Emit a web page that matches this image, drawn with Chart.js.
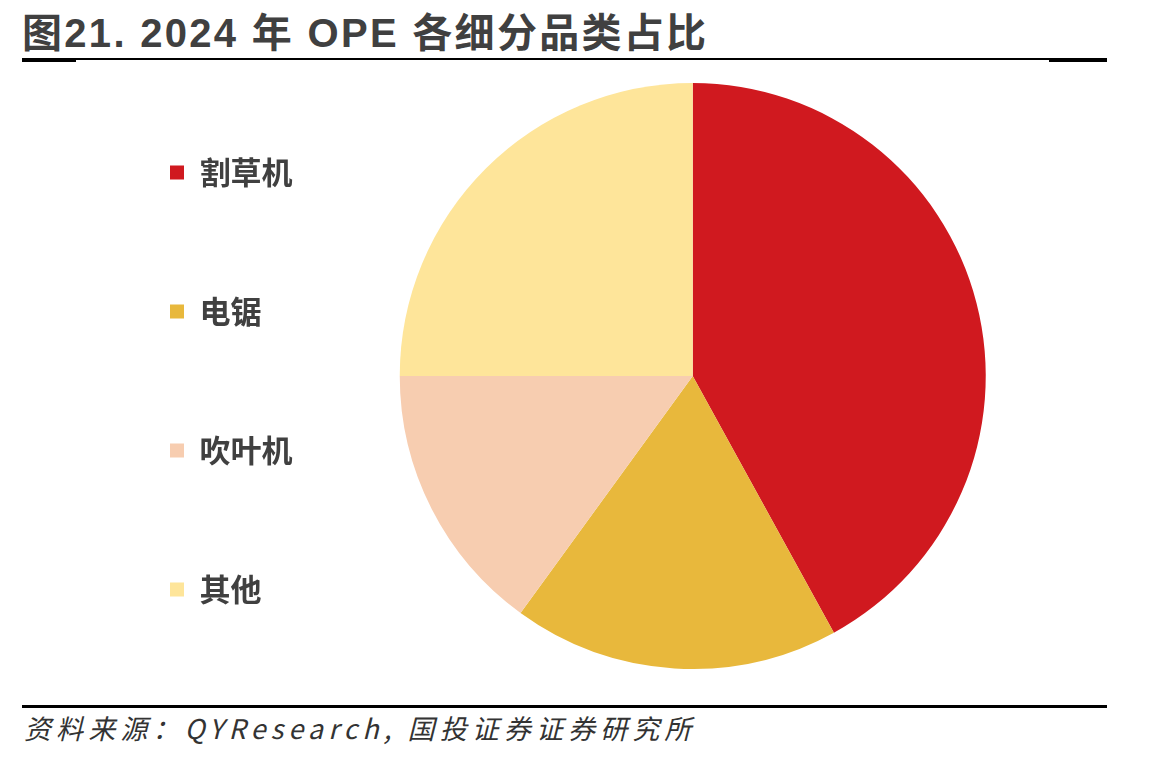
<!DOCTYPE html>
<html>
<head>
<meta charset="utf-8">
<script src="https://cdn.jsdelivr.net/npm/chart.js@4/dist/chart.umd.min.js"></script>
<style>
  body { margin: 0; background: #fff; }
  #wrap { position: relative; width: 1156px; height: 759px; overflow: hidden; }
  #title {
    position: absolute; left: 22px; top: 1px;
    font: bold 40px "Liberation Sans", "Noto Sans CJK SC", sans-serif;
    color: #404040; white-space: nowrap; letter-spacing: 2.3px;
  }
  .rule { position: absolute; background: #000; }
  #source {
    position: absolute; left: 24px; top: 708px;
    font: italic 27px "Liberation Sans Narrow", "Noto Sans CJK SC", sans-serif;
    color: #333; letter-spacing: 5.1px; white-space: nowrap;
  }
  #chartBox { position: absolute; left: 0; top: 26px; width: 1156px; height: 700px; }
</style>
</head>
<body>
<div id="wrap">
  <div id="title">图21. 2024 年 OPE 各细分品类占比</div>
  <div class="rule" style="left:22px;top:58px;width:1085px;height:2px"></div>
  <div class="rule" style="left:22px;top:58px;width:54px;height:4px"></div>
  <div class="rule" style="left:1049px;top:58px;width:58px;height:4px"></div>
  <div class="rule" style="left:22px;top:705px;width:1085px;height:3px"></div>
  <div id="source">资料来源：QYResearch, 国投证券证券研究所</div>
  <div id="chartBox"><canvas id="pie"></canvas></div>
</div>
<script>
// OPE 各细分品类占比（%）
const categories = ['割草机', '电锯', '吹叶机', '其他'];
const shares = [42, 18, 15, 25];
const colors = ['#D0191F', '#E8B83C', '#F7CDB0', '#FEE59A'];

const ctx = document.getElementById('pie').getContext('2d');
new Chart(ctx, {
  type: 'pie',
  data: {
    labels: categories,
    datasets: [{
      data: shares,
      backgroundColor: colors,
      borderWidth: 0
    }]
  },
  options: {
    responsive: true,
    maintainAspectRatio: false,
    animation: false,
    radius: 293,
    layout: { padding: { left: 62, right: 73, top: 0, bottom: 0 } },
    plugins: {
      tooltip: { enabled: false },
      legend: {
        position: 'left',
        title: { display: true, text: '', font: { size: 10, lineHeight: 1 }, padding: 0 },
        labels: {
          boxWidth: 14,
          boxHeight: 14,
          padding: 108,
          color: '#404040',
          font: { family: '"Noto Sans CJK SC", sans-serif', size: 31, weight: 'bold' }
        }
      }
    }
  }
});
</script>
</body>
</html>
